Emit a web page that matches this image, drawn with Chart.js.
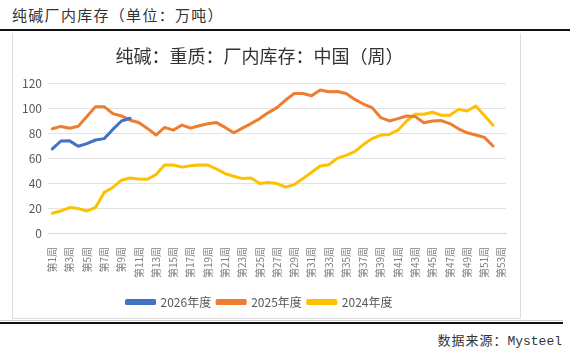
<!DOCTYPE html>
<html>
<head>
<meta charset="utf-8">
<script src="https://cdn.jsdelivr.net/npm/chart.js@4"></script>
<style>
  body { margin: 0; background: #fff; width: 570px; height: 353px; position: relative; overflow: hidden; font-family: "Noto Sans CJK SC", sans-serif; }
  #head { position: absolute; left: 12px; top: 4px; font-size: 15px; color: #333; letter-spacing: 1.3px; }
  #topline { position: absolute; left: 0; top: 29px; width: 570px; height: 2px; background: #111; }
  #box { position: absolute; left: 12px; top: 33px; width: 507px; height: 285px; border: 1px solid #dcdcdc; border-top: none; }
  #grayline { position: absolute; left: 0; top: 320px; width: 563px; height: 1px; background: #ccc; }
  #botline { position: absolute; left: 0; top: 322px; width: 563px; height: 2px; background: #111; }
  #src { position: absolute; right: 8px; top: 330px; font-size: 13px; color: #333; letter-spacing: 1px; }
  #src span { font-family: "Liberation Mono", "DejaVu Sans Mono", monospace; letter-spacing: 0; }
</style>
</head>
<body>
<div id="head">纯碱厂内库存（单位：万吨）</div>
<div id="topline"></div>
<div id="box"><canvas id="chart"></canvas></div>
<div id="grayline"></div>
<div id="botline"></div>
<div id="src">数据来源：<span>Mysteel</span></div>
<script>
// 周标签
const weeks = [];
for (let i = 1; i <= 53; i++) weeks.push('第' + i + '周');

// 各年度厂内库存（万吨）
const data2026 = [67.5, 73.9, 74.0, 69.7, 71.8, 74.7, 75.8, 83.2, 90.0, 92.2];

const data2025 = [83.7, 85.6, 84.2, 85.8, 93.5, 101.5, 101.5, 95.9, 94.0, 90.6,
  88.7, 84.0, 78.7, 84.8, 82.6, 86.7, 84.2, 86.1, 87.7, 88.7,
  84.8, 80.5, 84.2, 87.9, 91.9, 96.7, 100.7, 106.8, 112.0, 112.0,
  110.2, 114.9, 113.4, 113.6, 112.0, 107.3, 103.6, 100.7, 92.7, 90.0,
  91.9, 94.0, 93.5, 88.5, 90.0, 90.3, 87.9, 83.7, 80.5, 78.7,
  76.8, 69.9];

const data2024 = [15.9, 17.7, 20.4, 19.6, 17.7, 20.4, 32.6, 36.6, 42.4, 44.2,
  43.4, 43.2, 46.9, 54.6, 54.6, 52.9, 54.0, 54.6, 54.6, 51.4,
  47.7, 45.6, 43.7, 44.2, 39.7, 40.5, 39.7, 36.8, 38.9, 43.7,
  48.8, 53.8, 54.8, 60.1, 62.3, 65.4, 71.0, 75.8, 78.7, 79.2,
  82.6, 90.0, 95.4, 95.4, 97.0, 94.6, 94.6, 99.3, 98.0, 102.0,
  94.3, 86.6];

const yTicks = [0, 20, 40, 60, 80, 100, 120];

const ctx = document.getElementById('chart').getContext('2d');
const chart = new Chart(ctx, {
  type: 'line',
  data: {
    labels: weeks,
    datasets: [
      { label: '2026年度', data: data2026, borderColor: '#4472C4', backgroundColor: '#4472C4' },
      { label: '2025年度', data: data2025, borderColor: '#ED7D31', backgroundColor: '#ED7D31' },
      { label: '2024年度', data: data2024, borderColor: '#FFC000', backgroundColor: '#FFC000' }
    ]
  },
  options: {
    responsive: true,
    maintainAspectRatio: false,
    animation: false,
    devicePixelRatio: 1,
    layout: { padding: { left: 0, right: 14, top: 0, bottom: 0 } },
    elements: {
      line: { borderWidth: 3, tension: 0, borderJoinStyle: 'round', borderCapStyle: 'round' },
      point: { radius: 0, hoverRadius: 0 }
    },
    plugins: {
      title: {
        display: true,
        text: '纯碱：重质：厂内库存：中国（周）',
        color: '#333',
        font: { family: '"Noto Sans CJK SC"', size: 18, weight: 'normal' },
        padding: { top: 12, bottom: 17 }
      },
      legend: {
        position: 'bottom',
        labels: {
          boxWidth: 28,
          boxHeight: 3,
          padding: 6,
          color: '#595959',
          font: { family: '"Noto Sans CJK SC"', size: 12 }
        }
      },
      tooltip: { enabled: false }
    },
    scales: {
      x: {
        offset: true,
        grid: { display: false },
        border: { color: '#d9d9d9' },
        afterFit: function (scale) { scale.height = 57; },
        ticks: {
          autoSkip: false,
          minRotation: 90,
          maxRotation: 90,
          padding: 6,
          color: '#7f7f7f',
          font: { family: '"Noto Sans CJK SC"', size: 10 },
          callback: function (val, i) { return i % 2 === 0 ? weeks[i] : ''; }
        }
      },
      y: {
        min: 0,
        max: 120,
        afterFit: function (scale) { scale.width = 35; },
        afterBuildTicks: function (scale) { scale.ticks = yTicks.map(v => ({ value: v })); },
        grid: { color: '#e3e3e3', drawTicks: false },
        border: { display: false },
        ticks: {
          padding: 6,
          color: '#595959',
          font: { family: '"Noto Sans CJK SC"', size: 12 }
        }
      }
    }
  }
});
</script>
</body>
</html>
